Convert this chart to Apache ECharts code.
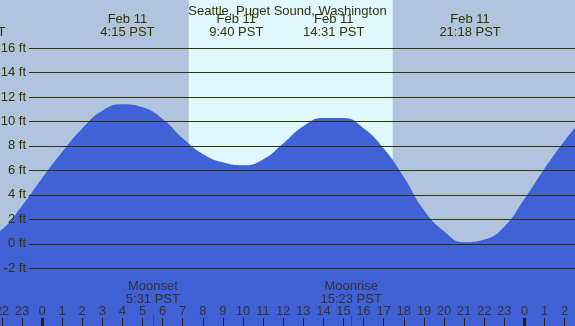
<!DOCTYPE html>
<html>
<head>
<meta charset="utf-8">
<script src="https://cdn.jsdelivr.net/npm/echarts@6/dist/echarts.min.js"></script>
<style>
  html, body { margin: 0; padding: 0; }
  #chart { width: 575px; height: 326px; }
</style>
</head>
<body>
<div id="chart"></div>
<script>
// hours since midnight Feb 11 (PST) and tide height in feet
const tideHours = [-3, -2, -1, 0, 1, 2, 3, 4, 5, 6, 7, 8, 9, 10, 11, 12, 13, 14, 15, 16, 17, 18, 19, 20, 21, 22, 23, 24, 25, 26, 27];
const tideFeet = [0.4, 1.17, 3.1, 5.36, 7.5, 9.43, 10.88, 11.4, 11.15, 10.2, 8.63, 7.35, 6.66, 6.42, 6.9, 8.2, 9.6, 10.28, 10.28, 9.45, 7.8, 5.46, 2.76, 1.03, 0.13, 0.35, 1.4, 3.66, 6.14, 8.41, 10.4];

// high / low tide labels
const extremeHours = [-3.35, 4.25, 9.667, 14.517, 21.3];
const extremeLabels = ['Feb 10\n20:39 PST', 'Feb 11\n4:15 PST', 'Feb 11\n9:40 PST', 'Feb 11\n14:31 PST', 'Feb 11\n21:18 PST'];

// moon events
const moonHours = [5.517, 15.383];
const moonLabels = ['Moonset\n5:31 PST', 'Moonrise\n15:23 PST'];

// daylight
const sunrise = 7.3;
const sunset = 17.45;

const midnights = [0, 24];

const X_MIN = -2.09, X_MAX = 26.52;
const Y_MIN = -6.71, Y_MAX = 19.92;
const W = 575, H = 326;
const xPx = (h) => (h - X_MIN) / (X_MAX - X_MIN) * W;
const yAt = (px) => Y_MAX - px * (Y_MAX - Y_MIN) / H;

const textColor = '#333300';
const font = 'Liberation Sans';
const fs = 13;

const chart = echarts.init(document.getElementById('chart'));

chart.setOption({
  backgroundColor: '#B0C4DE',
  animation: false,
  title: {
    text: 'Seattle, Puget Sound, Washington',
    left: 'center',
    top: 0,
    textStyle: { fontSize: fs, fontWeight: 'normal', color: textColor, fontFamily: font }
  },
  grid: [
    { left: 0, right: 0, top: 0, bottom: 0, outerBoundsMode: 'none', containLabel: false },
    { left: 29, right: 0, top: 48, bottom: 57.7, outerBoundsMode: 'none', containLabel: false },
    { left: 1.8, right: 10.4, top: 0, bottom: 0, outerBoundsMode: 'none', containLabel: false }
  ],
  xAxis: [
    { gridIndex: 0, type: 'value', min: X_MIN, max: X_MAX, show: false },
    { gridIndex: 1, type: 'value', min: 0, max: 1, show: false },
    {
      gridIndex: 2, type: 'value', min: -2, max: 26, interval: 1, z: 6,
      axisLine: { show: false },
      splitLine: { show: false },
      axisTick: { inside: true, length: 8, lineStyle: { color: '#222', width: 1 } },
      axisLabel: {
        inside: true, margin: 8, fontSize: fs, color: '#333', fontFamily: font, align: 'center',
        showMinLabel: true, showMaxLabel: true, hideOverlap: false,
        formatter: (v) => String(((v % 24) + 24) % 24)
      }
    }
  ],
  yAxis: [
    { gridIndex: 0, type: 'value', min: Y_MIN, max: Y_MAX, show: false },
    {
      gridIndex: 1, type: 'value', min: -2, max: 16, interval: 2, z: 5,
      axisLine: { show: false },
      axisTick: { show: false },
      splitLine: { lineStyle: { color: textColor, width: 1 } },
      axisLabel: { margin: 3, fontSize: fs, color: textColor, fontFamily: font, formatter: '{value} ft' }
    },
    { gridIndex: 2, type: 'value', min: 0, max: 1, show: false }
  ],
  series: [
    {
      // daylight band
      type: 'line',
      xAxisIndex: 0, yAxisIndex: 0,
      data: [],
      z: 1,
      markArea: {
        silent: true,
        itemStyle: { color: '#E0F8FF' },
        data: [[{ xAxis: sunrise, yAxis: Y_MIN }, { xAxis: sunset, yAxis: Y_MAX }]]
      }
    },
    {
      name: 'tide',
      type: 'line',
      xAxisIndex: 0, yAxisIndex: 0,
      z: 2,
      smooth: 0.5,
      symbol: 'none',
      lineStyle: { width: 0 },
      areaStyle: { color: '#4161D6', opacity: 1, origin: 'start' },
      data: tideHours.map((h, i) => [h, tideFeet[i]]),
      markPoint: {
        silent: true,
        symbolSize: 0,
        data: extremeHours.map((h, i) => ({
          x: xPx(h), y: 25.5,
          label: {
            show: true, position: 'inside',
            formatter: extremeLabels[i], lineHeight: 13,
            fontSize: fs, color: textColor, fontFamily: font
          }
        })).concat(moonHours.map((h, i) => ({
          x: xPx(h), y: 293.4,
          label: {
            show: true, position: 'inside',
            formatter: moonLabels[i], lineHeight: 13,
            fontSize: fs, color: '#333', fontFamily: font
          }
        })))
      },
      markLine: {
        silent: true,
        symbol: 'none',
        label: { show: false },
        data: midnights.map((h) => [
          { coord: [h, Y_MIN], lineStyle: { color: '#222200', width: 3, type: 'solid' } },
          { coord: [h, yAt(318)] }
        ]).concat(moonHours.map((h) => [
          { coord: [h, Y_MIN], lineStyle: { color: '#ff0000', width: 1, type: 'solid' } },
          { coord: [h, yAt(315)] }
        ]))
      }
    }
  ]
});
</script>
</body>
</html>
